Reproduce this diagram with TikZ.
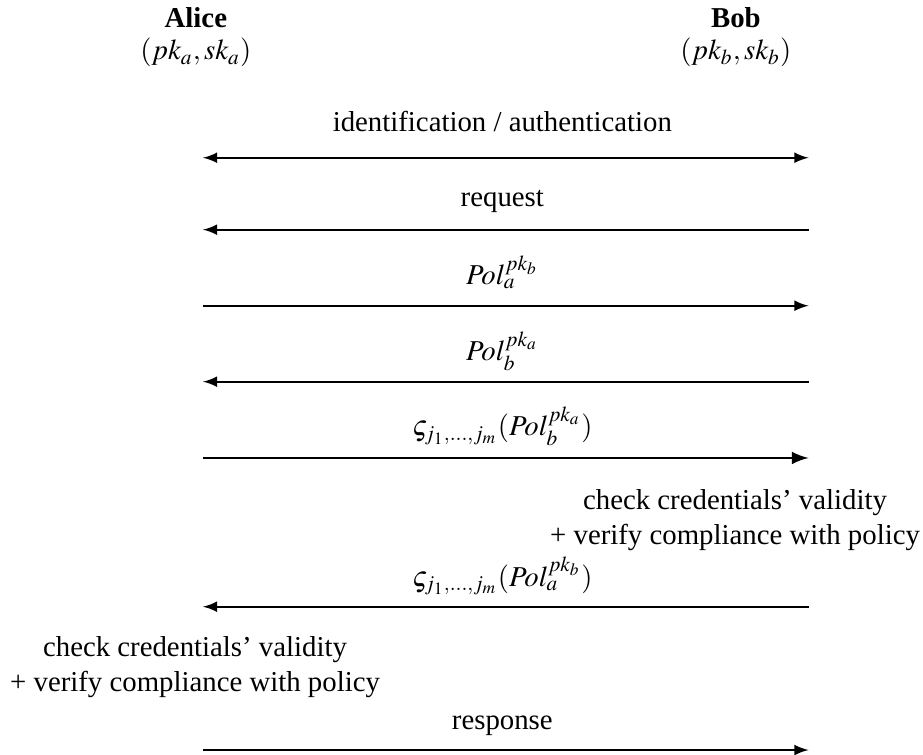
\documentclass[tikz,border=0pt]{standalone}
\usepackage{mathptmx}
\usepackage[no-math]{fontspec}
\setmainfont{Liberation Serif}
\usepackage{tikz}
\usetikzlibrary{arrows}

\begin{document}
\begin{tikzpicture}[msg/.style={line width=0.7pt, >=latex}]
    \useasboundingbox (0,0) rectangle (11.264,-9.202);

    \node[anchor=base, font=\bfseries] (alice) at (2.39,-0.33) {Alice};
    \node[anchor=base] (alicekeys) at (2.39,-0.73) {$(pk_a,sk_a)$};
    \node[anchor=base, font=\bfseries] (bob) at (8.98,-0.33) {Bob};
    \node[anchor=base] (bobkeys) at (8.98,-0.73) {$(pk_b,sk_b)$};

    \coordinate (a1) at (2.477,-1.925);
    \coordinate (b1) at (9.867,-1.925);
    \node[anchor=base] (ident) at (6.13,-1.61) {identification / authentication};
    \draw[msg, <->] (a1) to (b1);

    \coordinate (a2) at (2.477,-2.803);
    \coordinate (b2) at (9.867,-2.803);
    \node[anchor=base] (request) at (6.13,-2.523) {request};
    \draw[msg, <-] (a2) to (b2);

    \coordinate (a3) at (2.477,-3.731);
    \coordinate (b3) at (9.867,-3.731);
    \node[anchor=base] (pola) at (6.13,-3.478) {$Pol_a^{pk_b}$};
    \draw[msg, ->] (a3) to (b3);

    \coordinate (a4) at (2.477,-4.658);
    \coordinate (b4) at (9.867,-4.658);
    \node[anchor=base] (polb) at (6.13,-4.402) {$Pol_b^{pk_a}$};
    \draw[msg, <-] (a4) to (b4);

    \coordinate (a5) at (2.477,-5.589);
    \coordinate (b5) at (9.867,-5.589);
    \node[anchor=base] (credsa) at (6.13,-5.317) {$\varsigma_{j_1,\ldots,j_m}(Pol_b^{pk_a})$};
    \draw[msg, ->, line width=1pt] (a5) to (b5);

    % Bob checks
    \node[anchor=base, align=center] (bobcheck) at (8.97,-6.639)
        {check credentials' validity\\+ verify compliance with policy};

    \coordinate (a6) at (2.477,-7.404);
    \coordinate (b6) at (9.867,-7.404);
    \node[anchor=base] (credsb) at (6.13,-7.152) {$\varsigma_{j_1,\ldots,j_m}(Pol_a^{pk_b})$};
    \draw[msg, <-] (a6) to (b6);

    % Alice checks
    \node[anchor=base, align=center] (alicecheck) at (2.38,-8.433)
        {check credentials' validity\\+ verify compliance with policy};

    \coordinate (a7) at (2.477,-9.153);
    \coordinate (b7) at (9.867,-9.153);
    \node[anchor=base] (response) at (6.13,-8.897) {response};
    \draw[msg, ->] (a7) to (b7);
\end{tikzpicture}
\end{document}
